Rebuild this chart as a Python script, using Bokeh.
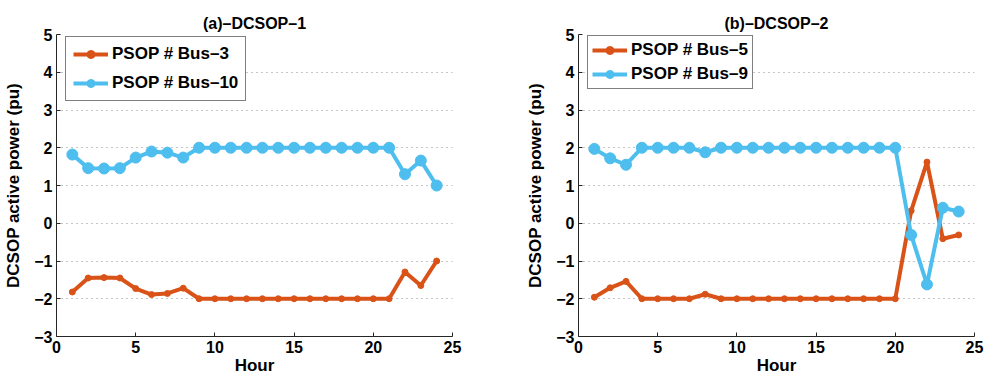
from bokeh.plotting import figure
from bokeh.layouts import row
from bokeh.models import Legend, LegendItem, FixedTicker
from bokeh.embed import file_html
from bokeh.resources import INLINE

# Hourly active power of the two DC soft open points (pu)
hours = [1, 2, 3, 4, 5, 6, 7, 8, 9, 10, 11, 12, 13, 14, 15, 16, 17, 18, 19, 20, 21, 22, 23, 24]

dcsop1_bus3 = [-1.82, -1.45, -1.44, -1.45, -1.73, -1.89, -1.86, -1.72,
               -2.0, -2.0, -2.0, -2.0, -2.0, -2.0, -2.0, -2.0, -2.0, -2.0, -2.0, -2.0, -2.0,
               -1.29, -1.65, -1.0]
dcsop1_bus10 = [1.82, 1.46, 1.45, 1.46, 1.74, 1.90, 1.87, 1.74,
                2.0, 2.0, 2.0, 2.0, 2.0, 2.0, 2.0, 2.0, 2.0, 2.0, 2.0, 2.0, 2.0,
                1.30, 1.66, 1.0]

dcsop2_bus5 = [-1.96, -1.71, -1.54, -2.0, -2.0, -2.0, -2.0, -1.88,
               -2.0, -2.0, -2.0, -2.0, -2.0, -2.0, -2.0, -2.0, -2.0, -2.0, -2.0, -2.0,
               0.33, 1.62, -0.41, -0.31]
dcsop2_bus9 = [1.97, 1.72, 1.55, 2.0, 2.0, 2.0, 2.0, 1.88,
               2.0, 2.0, 2.0, 2.0, 2.0, 2.0, 2.0, 2.0, 2.0, 2.0, 2.0, 2.0,
               -0.31, -1.62, 0.41, 0.31]

x_ticks = [0, 5, 10, 15, 20, 25]
y_ticks = [-3, -2, -1, 0, 1, 2, 3, 4, 5]
y_tick_labels = {-3: "\u22123", -2: "\u22122", -1: "\u22121", 0: "0",
                 1: "1", 2: "2", 3: "3", 4: "4", 5: "5"}

RED = "#D95319"
BLUE = "#4DBEEE"
FONT = "Liberation Sans"


def panel(title, s_red, s_blue, lab_red, lab_blue, width, border_left, border_right,
          leg_loc, leg_spacing, leg_padding):
    p = figure(width=width, height=383, x_range=(0, 25), y_range=(-3, 5),
               output_backend="svg", toolbar_location=None,
               min_border_left=border_left, min_border_right=border_right,
               min_border_top=34, min_border_bottom=47)
    p.outline_line_color = None
    p.background_fill_color = "white"
    p.border_fill_color = "white"

    p.title.text = title
    p.title.align = "center"
    p.title.text_font = FONT
    p.title.text_font_style = "bold"
    p.title.text_font_size = "16px"
    p.title.text_color = "black"
    p.title.standoff = 6

    p.xaxis.ticker = FixedTicker(ticks=x_ticks)
    p.yaxis.ticker = FixedTicker(ticks=y_ticks)
    p.yaxis.major_label_overrides = y_tick_labels
    for ax in (p.xaxis[0], p.yaxis[0]):
        ax.axis_line_color = "#262626"
        ax.axis_line_width = 1
        ax.major_tick_in = 4
        ax.major_tick_out = 0
        ax.major_tick_line_color = "#262626"
        ax.minor_tick_line_color = None
        ax.major_label_text_font = FONT
        ax.major_label_text_font_style = "bold"
        ax.major_label_text_font_size = "16px"
        ax.major_label_text_color = "black"
        ax.axis_label_text_font = FONT
        ax.axis_label_text_font_style = "bold"
        ax.axis_label_text_font_size = "17px"
        ax.axis_label_text_color = "black"
    p.xaxis.axis_label = "Hour"
    p.yaxis.axis_label = "DCSOP active power (pu)"
    p.xaxis.major_label_standoff = 4
    p.xaxis.axis_label_standoff = 0
    p.yaxis.major_label_standoff = 4
    p.yaxis.axis_label_standoff = 8

    p.xgrid.grid_line_color = None
    p.ygrid.grid_line_color = "#8c8c8c"
    p.ygrid.grid_line_dash = "1 4"
    p.ygrid.grid_line_width = 1

    r_line = p.line(hours, s_red, line_color=RED, line_width=4)
    r_pts = p.scatter(hours, s_red, size=6, marker="circle",
                      fill_color=RED, line_color=RED)
    b_line = p.line(hours, s_blue, line_color=BLUE, line_width=4)
    b_pts = p.scatter(hours, s_blue, size=11, marker="circle",
                      fill_color=BLUE, line_color=BLUE)

    legend = Legend(items=[LegendItem(label=lab_red, renderers=[r_line, r_pts]),
                           LegendItem(label=lab_blue, renderers=[b_line, b_pts])],
                    location=leg_loc)
    legend.label_text_font = FONT
    legend.label_text_font_style = "bold"
    legend.label_text_font_size = "17px"
    legend.label_text_color = "black"
    legend.glyph_width = 35
    legend.glyph_height = 20
    legend.label_height = 20
    legend.label_standoff = 4
    legend.spacing = leg_spacing
    legend.padding = leg_padding
    legend.margin = 0
    legend.border_line_color = "black"
    legend.border_line_width = 1.5
    legend.background_fill_alpha = 1
    p.add_layout(legend, "center")
    return p


# legend location is the lower-left corner of the box, measured from the frame's lower-left
left = panel("(a)\u2013DCSOP\u20131", dcsop1_bus3, dcsop1_bus10,
             "PSOP # Bus\u20133", "PSOP # Bus\u201310",
             width=494, border_left=56, border_right=42,
             leg_loc=(9, 235), leg_spacing=9, leg_padding=7)
right = panel("(b)\u2013DCSOP\u20132", dcsop2_bus5, dcsop2_bus9,
              "PSOP # Bus\u20135", "PSOP # Bus\u20139",
              width=494, border_left=84, border_right=14,
              leg_loc=(9, 247), leg_spacing=4, leg_padding=4)

layout = row(left, right)
open("out.html", "w").write(file_html(layout, INLINE))
